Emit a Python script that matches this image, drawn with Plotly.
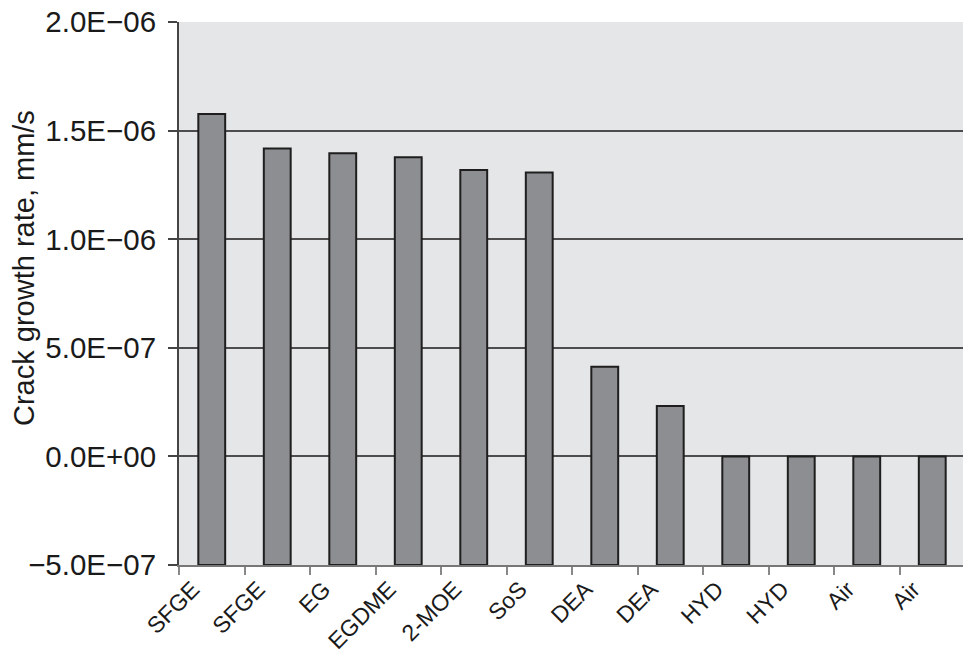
import plotly.graph_objects as go

# Crack growth rate per environment
categories = ["SFGE", "SFGE", "EG", "EGDME", "2-MOE", "SoS",
              "DEA", "DEA", "HYD", "HYD", "Air", "Air"]
rates = [1.577e-6, 1.418e-6, 1.396e-6, 1.377e-6, 1.319e-6, 1.307e-6,
         4.13e-7, 2.32e-7, 0.0, 0.0, 0.0, 0.0]
y_min = -5e-7
y_max = 2e-6
tick_vals = [-5e-7, 0.0, 5e-7, 1e-6, 1.5e-6, 2e-6]
tick_text = ["\u22125.0E\u221207", "0.0E+00", "5.0E\u221207",
             "1.0E\u221206", "1.5E\u221206", "2.0E\u221206"]

# bars are drawn up from the bottom of the axis, like the original
x_pos = list(range(len(categories)))
lengths = [r - y_min for r in rates]
boundaries = [i - 0.5 for i in range(len(categories) + 1)]

fig = go.Figure()
fig.add_trace(go.Bar(
    x=x_pos, y=lengths, base=y_min,
    marker=dict(color="#8d8e91", line=dict(color="#1e1e1e", width=2)),
    width=0.41,
))

font = "Liberation Sans, Arial, sans-serif"
# page body has an 8px margin, so the figure is a bit smaller than the window
fig.update_layout(
    width=963, height=650,
    margin=dict(l=171, r=6, t=14, b=93),
    paper_bgcolor="white",
    plot_bgcolor="#e5e6e8",
    showlegend=False,
    font=dict(family=font, color="#1a1a1a"),
)
fig.update_xaxes(
    automargin=False,
    tickmode="array", tickvals=x_pos, ticktext=categories,
    range=[-0.5, len(categories) - 0.5],
    tickangle=-45, tickfont=dict(size=23),
    ticklabelshift=-19, ticklabelstandoff=0,
    showgrid=False, showline=True, linecolor="#777777", linewidth=1.5,
    ticks="", ticklen=0,
    minor=dict(tickmode="array", tickvals=boundaries, ticks="outside",
               ticklen=8, tickcolor="#888888", tickwidth=2, showgrid=False),
)
fig.update_yaxes(
    automargin=False,
    range=[y_min - 1e-12, y_max + 1e-12],
    tickmode="array", tickvals=tick_vals, ticktext=tick_text,
    tickfont=dict(size=29.5), ticklabelstandoff=6, ticklabeloverflow="allow",
    showgrid=True, gridcolor="#4d4d4d", gridwidth=1.5,
    zeroline=False,
    showline=True, linecolor="#444444", linewidth=2,
    ticks="outside", ticklen=9, tickcolor="#444444", tickwidth=1.5,
)
fig.add_annotation(
    text="Crack growth rate, mm/s", textangle=-90,
    xref="paper", yref="paper", x=0, y=0.547, xshift=-155,
    xanchor="center", yanchor="middle", showarrow=False,
    font=dict(size=29),
)
# right border of the plot area
fig.add_shape(type="line", xref="paper", yref="paper", x0=1, x1=1, y0=0, y1=1,
              line=dict(color="#888888", width=2), layer="below")

fig.write_html("out.html")
